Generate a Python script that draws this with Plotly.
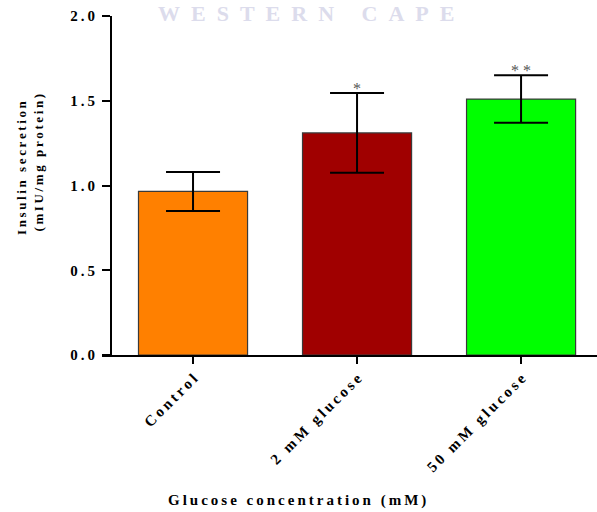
import plotly.graph_objects as go

categories = ["Control", "2 mM glucose", "50 mM glucose"]
means = [0.965, 1.31, 1.51]
errors = [0.115, 0.235, 0.14]
colors = ["#FF8000", "#A00000", "#00FF00"]
significance = ["", "*", "* *"]
y_ticks = [0.0, 0.5, 1.0, 1.5, 2.0]

TS = "\u2009"


def spaced(s, sep=TS):
    return sep.join(list(s))


W, H = 597, 512
L, R, T, B = 102, 0, 16, 157
pw = W - L - R
ph = H - T - B

font_fam = "Liberation Serif, Times New Roman, serif"

fig = go.Figure()
fig.add_trace(go.Bar(
    x=list(range(len(categories))),
    y=means,
    width=0.665,
    marker=dict(color=colors, line=dict(color="#3a3a3a", width=1.2)),
    error_y=dict(type="data", array=errors, visible=True, color="black",
                 thickness=2, width=27),
    showlegend=False,
))

for i, (m, e, s) in enumerate(zip(means, errors, significance)):
    if s:
        fig.add_annotation(x=i, y=m + e, xref="x", yref="y", text=s,
                           showarrow=False, yanchor="bottom", yshift=-6,
                           font=dict(family=font_fam, size=16, color="#555555"))

fig.update_layout(
    width=W, height=H,
    margin=dict(l=L, r=R, t=T, b=B, pad=0),
    paper_bgcolor="white", plot_bgcolor="white",
    font=dict(family=font_fam, color="black"),
    xaxis=dict(
        range=[-0.555, 2.463],
        tickmode="array",
        tickvals=list(range(len(categories))),
        ticktext=["<b>" + spaced(c) + "</b>" for c in categories],
        tickangle=-45,
        tickfont=dict(family=font_fam, size=15, color="black"),
        ticks="outside", ticklen=7, tickwidth=2, tickcolor="black",
        showline=True, linecolor="black", linewidth=2,
        showgrid=False, zeroline=False,
    ),
    yaxis=dict(
        range=[0, 2.0],
        tickmode="array",
        tickvals=y_ticks,
        ticktext=["<b>" + spaced(f"{v:.1f}") + "</b>" for v in y_ticks],
        tickfont=dict(family=font_fam, size=15, color="black"),
        ticks="outside", ticklen=8, tickwidth=2, tickcolor="black",
        ticklabelstandoff=4,
        showline=True, linecolor="black", linewidth=2,
        showgrid=False, zeroline=False,
        anchor="free", position=9 / pw,
    ),
)

# y-axis title (two lines)
fig.add_annotation(x=(21 - L) / pw, y=(355 - 168) / ph, xref="paper", yref="paper",
                   text="<b>" + spaced("Insulin secretion") + "</b>", textangle=-90,
                   showarrow=False, xanchor="center", yanchor="middle",
                   font=dict(family=font_fam, size=13, color="black"))
fig.add_annotation(x=(37.5 - L) / pw, y=(355 - 163) / ph, xref="paper", yref="paper",
                   text="<b>" + spaced("(mIU/mg protein)") + "</b>", textangle=-90,
                   showarrow=False, xanchor="center", yanchor="middle",
                   font=dict(family=font_fam, size=13, color="black"))

# x-axis title
fig.add_annotation(x=(297 - L) / pw, y=(355 - 500) / ph, xref="paper", yref="paper",
                   text="<b>" + spaced("Glucose concentration (mM)") + "</b>",
                   showarrow=False, xanchor="center", yanchor="middle",
                   font=dict(family=font_fam, size=15, color="black"))

# watermark
fig.add_annotation(x=(306 - L) / pw, y=(355 + 1) / ph, xref="paper", yref="paper",
                   text="<b>" + spaced("WESTERN CAPE", "\u2002") + "</b>",
                   showarrow=False, xanchor="center", yanchor="top",
                   font=dict(family=font_fam, size=22, color="#DCDCEC"))

fig.write_html("out.html")
